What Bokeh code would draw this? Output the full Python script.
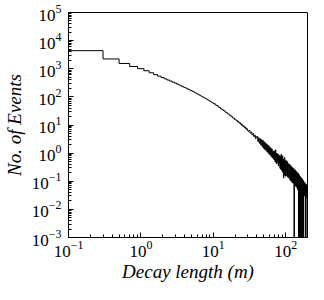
import numpy as np
from bokeh.plotting import figure
from bokeh.models import FixedTicker, Range1d, ColumnDataSource
from bokeh.embed import file_html
from bokeh.resources import INLINE

# ---- data ----
# bins of width 0.2 from 0.1 to 10.1
vals_a = [4400, 2230, 1540, 1200, 1010, 850, 720, 618, 546, 484, 437, 396, 364, 334,
          311, 285, 267, 247, 233, 217, 207, 193, 185, 174, 167, 156, 151, 141, 136,
          128, 124, 117, 114, 107, 104, 99, 96, 91, 89, 85, 82, 78.5, 76.5, 73, 71,
          68, 66.5, 63.5, 62, 59.5]
# bins of width 0.5 from 10.1 to 30.1
vals_b = [57.5, 51.6, 48.9, 43.8, 41.9, 37.6, 36.2, 32.7, 31.8, 28.6, 27.9, 25.1,
          24.6, 22.2, 21.9, 19.7, 19.6, 17.6, 17.7, 15.8, 16.0, 14.3, 14.5, 12.9,
          13.2, 11.7, 12.1, 10.7, 11.0, 9.8, 10.1, 8.9, 9.3, 8.2, 8.6, 7.6, 7.9,
          7.0, 7.3, 6.5]
# bins of width 1 from 30.1 to 100.1
vals_c = [6.0, 6.4, 5.2, 5.6, 4.5, 4.9, 3.9, 4.3, 3.3, 3.8,
          3.9, 2.6, 3.5, 2.25, 3.2, 1.95, 3.0, 1.7, 2.8, 1.5,
          2.5, 1.35, 2.3, 1.25, 2.1, 1.1, 1.95, 1.0, 1.8, 0.9,
          1.6, 0.85, 1.5, 0.75, 1.4, 0.7, 1.1, 0.62, 1.2, 0.58,
          1.15, 0.5, 1.3, 0.46, 0.98, 0.42, 0.95, 0.5, 0.9, 0.35,
          0.85, 0.45, 0.8, 0.29, 0.75, 0.27, 0.9, 0.25, 0.68, 0.23,
          0.8, 0.21, 0.62, 0.13, 0.58, 0.18, 0.7, 0.16, 0.52, 0.15]
# bins of width 2 from 100.1 to 200.1 (0 = empty bin)
vals_d = [0.55, 0.16, 0.5, 0.14, 0.42, 0.13, 0.4, 0.11, 0.36, 0.1,
          0.33, 0.09, 0.3, 0.085, 0.28, 0, 0.26, 0.07, 0.24, 0.065,
          0.22, 0.06, 0.2, 0.05, 0.19, 0, 0.17, 0, 0.15, 0,
          0.14, 0, 0.13, 0, 0.12, 0, 0.11, 0, 0.1, 0.03,
          0.09, 0.03, 0.085, 0, 0.08, 0.025, 0.075, 0.03, 0, 0]
bin_groups = [(0.1, 0.2, vals_a), (10.1, 0.5, vals_b), (30.1, 1.0, vals_c), (100.1, 2.0, vals_d)]

x_major = [0.1, 1, 10, 100]
y_major = [1e-3, 1e-2, 1e-1, 1, 10, 100, 1e3, 1e4, 1e5]
minor_mult = [2, 3, 4, 5, 6, 7, 8, 9]

# ---- build step path ----
edges = []
vals = []
for start, w, v in bin_groups:
    edges.extend(list(start + w * np.arange(len(v))))
    vals.extend(v)
edges.append(bin_groups[-1][0] + bin_groups[-1][1] * len(bin_groups[-1][2]))
vals = np.array(vals, dtype=float)
vals = np.where(vals > 0, vals, 1e-7)
xs = np.array(edges)
ys = np.append(vals, vals[-1])

FONT = "Liberation Serif"
p = figure(width=308, height=284, x_axis_type="log", y_axis_type="log",
           x_range=Range1d(0.1, 200), y_range=Range1d(1e-3, 1e5),
           output_backend="svg", toolbar_location=None,
           min_border_left=64, min_border_right=1, min_border_top=12, min_border_bottom=40)
p.background_fill_color = "white"
p.border_fill_color = "white"
p.grid.visible = False
p.outline_line_color = "black"
p.outline_line_width = 1

src = ColumnDataSource(dict(x=xs, y=ys))
p.step("x", "y", source=src, mode="after", line_color="black", line_width=1)

x_minor = [m * b for b in [0.1, 1, 10, 100] for m in minor_mult if m * b <= 200]
y_minor = [m * b for b in y_major[:-1] for m in minor_mult]
p.xaxis.ticker = FixedTicker(ticks=x_major, minor_ticks=x_minor)
p.yaxis.ticker = FixedTicker(ticks=y_major, minor_ticks=y_minor)

for ax in (p.xaxis, p.yaxis):
    ax.axis_line_color = "black"
    ax.major_tick_line_color = "black"
    ax.minor_tick_line_color = "black"
    ax.major_tick_in = 5
    ax.major_tick_out = 0
    ax.minor_tick_in = 3
    ax.minor_tick_out = 0
    ax.major_label_text_font = FONT
    ax.major_label_text_font_size = "17px"
    ax.major_label_text_color = "black"
    ax.major_label_text_line_height = 1.0
    ax.axis_label_text_font = FONT
    ax.axis_label_text_font_style = "italic"
    ax.axis_label_text_font_size = "19px"
    ax.axis_label_text_color = "black"
    ax.axis_label_text_line_height = 1.0

p.xaxis.axis_label = "Decay length (m)"
p.yaxis.axis_label = "No. of Events"
p.xaxis.major_label_standoff = 3
p.yaxis.major_label_standoff = 7
p.xaxis.axis_label_standoff = 1
p.yaxis.axis_label_standoff = 4

open("out.html", "w").write(file_html(p, INLINE))
